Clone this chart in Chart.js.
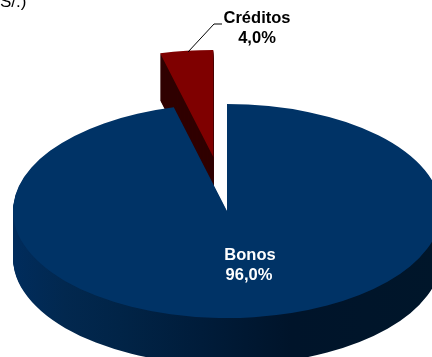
<!DOCTYPE html>
<html>
<head>
<meta charset="utf-8">
<script src="https://cdn.jsdelivr.net/npm/chart.js@4/dist/chart.umd.min.js"></script>
<style>
  html, body { margin: 0; padding: 0; background: #fff; overflow: hidden; }
  canvas { display: block; }
</style>
</head>
<body>
<canvas id="pie" width="432" height="357"></canvas>
<script>
const categories = ['Bonos', 'Créditos'];
const shares = [96.0, 4.0];
const topColors = ['#003366', '#7f0000'];
const clippedTitle = 'S/.)';

// where the tilted pie goes on the page
const centerX = 227, centerY = 211, tilt = 0.5, depth = 47, explode = 109;
const labelFont = 'bold 16.5px "Liberation Sans", Arial, sans-serif';

function wallFill(ctx, arc, index) {
    if (index === 1) return '#300000';
    const g = ctx.createLinearGradient(arc.x - arc.outerRadius, 0, arc.x + arc.outerRadius, 0);
    g.addColorStop(0, '#002c5c');
    g.addColorStop(0.12, '#02284f');
    g.addColorStop(0.25, '#012447');
    g.addColorStop(0.44, '#001c3a');
    g.addColorStop(0.65, '#00142a');
    g.addColorStop(1, '#00162a');
    return g;
}

function drawSlice(ctx, arc, index) {
    const mid = (arc.startAngle + arc.endAngle) / 2;
    const shift = index === 1 ? explode : 0;
    const base = arc.options;
    // side wall first, built up from the bottom
    arc.options = Object.assign({}, base, { backgroundColor: wallFill(ctx, arc, index), borderWidth: 0 });
    for (let d = depth; d >= 0; d--) {
        ctx.save();
        ctx.translate(centerX + Math.cos(mid) * shift, centerY + d + Math.sin(mid) * shift * tilt);
        ctx.scale(1, tilt);
        ctx.translate(-arc.x, -arc.y);
        if (d === 0) arc.options = base;
        arc.draw(ctx);
        ctx.restore();
    }
}

const tiltedPie = {
    id: 'tiltedPie',
    beforeDatasetsDraw(chart) {
        const arcs = chart.getDatasetMeta(0).data;
        drawSlice(chart.ctx, arcs[1], 1); // exploded slice sits behind
        drawSlice(chart.ctx, arcs[0], 0);
        return false;
    },
    afterDraw(chart) {
        const ctx = chart.ctx;
        const pct = v => v.toFixed(1).replace('.', ',') + '%';
        ctx.save();
        ctx.textAlign = 'center';
        ctx.textBaseline = 'middle';
        ctx.font = labelFont;
        ctx.fillStyle = '#ffffff';
        ctx.fillText(categories[0], 250, 255);
        ctx.fillText(pct(shares[0]), 249, 275);
        ctx.fillStyle = '#000000';
        ctx.fillText(categories[1], 257, 18);
        ctx.fillText(pct(shares[1]), 257, 38);

        // leader line for the small slice
        ctx.strokeStyle = '#000000';
        ctx.lineWidth = 1;
        ctx.beginPath();
        ctx.moveTo(188, 52);
        ctx.lineTo(214, 24);
        ctx.lineTo(222, 24);
        ctx.stroke();

        ctx.textAlign = 'left';
        ctx.textBaseline = 'alphabetic';
        ctx.font = '17px "Liberation Sans", Arial, sans-serif';
        ctx.fillText(clippedTitle, 0, 7);
        ctx.restore();
    }
};

new Chart(document.getElementById('pie'), {
    type: 'pie',
    data: {
        labels: categories,
        datasets: [{
            data: shares,
            backgroundColor: topColors,
            borderWidth: 0,
            radius: 214
        }]
    },
    options: {
        responsive: false,
        animation: false,
        plugins: { legend: { display: false }, tooltip: { enabled: false } }
    },
    plugins: [tiltedPie]
});
</script>
</body>
</html>
